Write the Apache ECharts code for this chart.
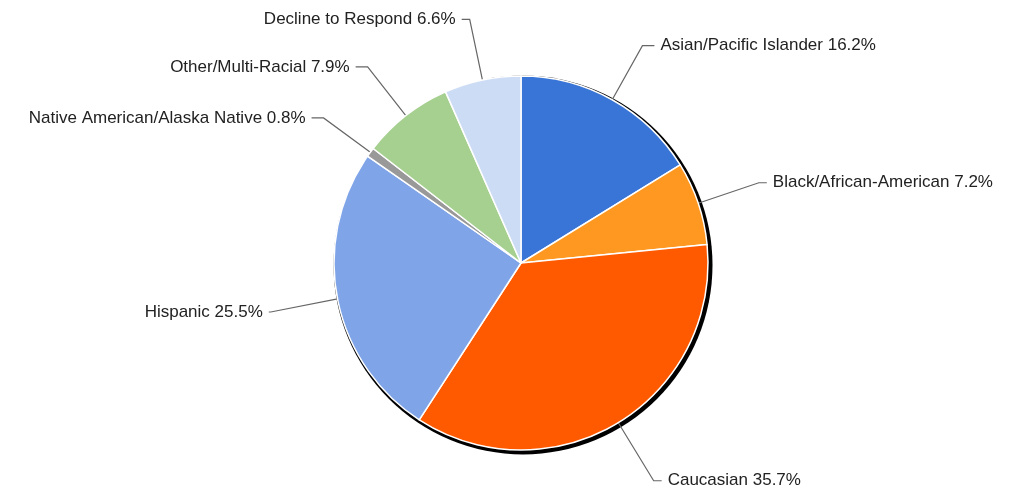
<!DOCTYPE html>
<html>
<head>
<meta charset="utf-8">
<script src="https://cdn.jsdelivr.net/npm/echarts@6/dist/echarts.min.js"></script>
<style>
html, body { margin: 0; padding: 0; background: #fff; }
#chart { width: 1016px; height: 493px; }
</style>
</head>
<body>
<div id="chart"></div>
<script>
var categories = [
    'Asian/Pacific Islander',
    'Black/African-American',
    'Caucasian',
    'Hispanic',
    'Native American/Alaska Native',
    'Other/Multi-Racial',
    'Decline to Respond'
];
var shares = [16.2, 7.2, 35.7, 25.5, 0.8, 7.9, 6.6];
var colors = ['#3875d7', '#ff9820', '#ff5a00', '#7fa5e8', '#999999', '#a6d08f', '#cddcf5'];
// leader line lengths per slice (first segment, horizontal segment)
var lineLen = [62, 64, 68, 68, 58, 62, 62];
var lineLen2 = [12, 8, 8, 2, 12, 12, 8];

var myChart = echarts.init(document.getElementById('chart'));

var pieData = categories.map(function(name, i) {
    return {
        name: name,
        value: shares[i],
        itemStyle: { color: colors[i] },
        labelLine: { length: lineLen[i], length2: lineLen2[i] }
    };
});

var option = {
    animation: false,
    series: [{
        // drop shadow behind the pie
        type: 'pie',
        silent: true,
        center: [523, 265],
        radius: 189.5,
        label: { show: false },
        labelLine: { show: false },
        itemStyle: { color: '#000', borderWidth: 0 },
        data: [{ value: 1, name: 'shadow' }],
        z: 1
    }, {
        name: 'Ethnicity',
        type: 'pie',
        center: [521, 263],
        radius: 187,
        startAngle: 90,
        clockwise: true,
        avoidLabelOverlap: false,
        itemStyle: {
            borderColor: '#fff',
            borderWidth: 1.5
        },
        label: {
            show: true,
            position: 'outside',
            fontFamily: 'Liberation Sans, Arial, sans-serif',
            fontSize: 17,
            color: '#222',
            distanceToLabelLine: 6,
            formatter: function(p) {
                return p.name + ' ' + p.value.toFixed(1) + '%';
            }
        },
        labelLine: {
            show: true,
            smooth: false,
            lineStyle: { color: '#666', width: 1.2 }
        },
        data: pieData,
        z: 2
    }]
};

myChart.setOption(option);
</script>
</body>
</html>
